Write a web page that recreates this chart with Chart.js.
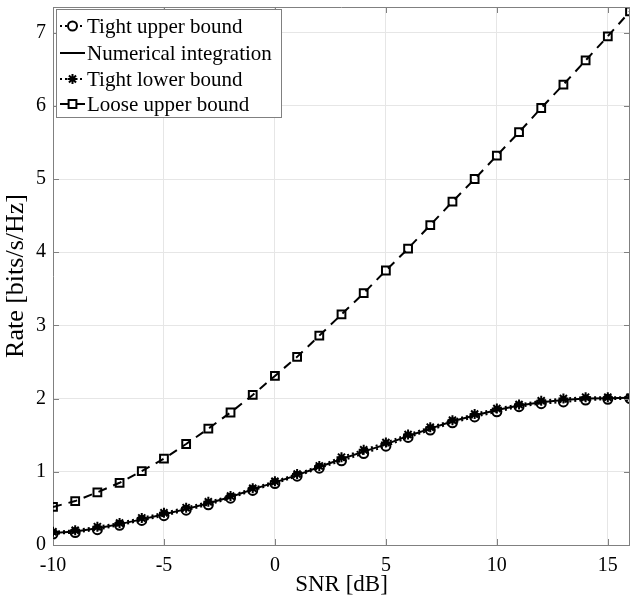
<!DOCTYPE html>
<html>
<head>
<meta charset="utf-8">
<script src="https://cdn.jsdelivr.net/npm/chart.js@4"></script>
<style>
  html, body { margin: 0; padding: 0; background: #fff; }
  #wrap { width: 630px; height: 603px; position: relative; }
</style>
</head>
<body>
<div id="wrap"><canvas id="chart"></canvas></div>
<script>
const snr = [-10, -9, -8, -7, -6, -5, -4, -3, -2, -1, 0, 1, 2, 3, 4, 5, 6, 7, 8, 9, 10, 11, 12, 13, 14, 15, 16];
const tightUpper = [0.15, 0.17, 0.21, 0.27, 0.335, 0.40, 0.475, 0.55, 0.64, 0.745, 0.84, 0.94, 1.05, 1.15, 1.25, 1.35, 1.47, 1.57, 1.67, 1.75, 1.82, 1.89, 1.93, 1.955, 1.98, 1.99, 2.0];
const numerical = [0.165, 0.185, 0.23, 0.285, 0.35, 0.42, 0.49, 0.57, 0.655, 0.76, 0.855, 0.955, 1.065, 1.175, 1.275, 1.375, 1.49, 1.59, 1.69, 1.77, 1.845, 1.905, 1.95, 1.98, 2.0, 2.005, 2.01];
const tightLower = [0.18, 0.20, 0.25, 0.30, 0.37, 0.44, 0.51, 0.59, 0.67, 0.775, 0.87, 0.97, 1.08, 1.20, 1.30, 1.40, 1.51, 1.61, 1.705, 1.79, 1.865, 1.92, 1.97, 2.0, 2.02, 2.02, 2.02];
const looseUpper = [0.52, 0.60, 0.72, 0.85, 1.01, 1.18, 1.38, 1.59, 1.81, 2.05, 2.31, 2.57, 2.86, 3.15, 3.44, 3.75, 4.05, 4.37, 4.69, 5.00, 5.32, 5.64, 5.97, 6.29, 6.62, 6.95, 7.29];
const xTicks = [-10, -5, 0, 5, 10, 15];
const yTicks = [0, 1, 2, 3, 4, 5, 6, 7];

const FONT = "'Liberation Serif', 'Times New Roman', serif";
const AXIS = '#808080';
const pts = vals => vals.map((v, i) => ({ x: snr[i], y: v }));

// box on top/right plus small inward ticks, matlab style
const matlabBox = {
  id: 'matlabBox',
  afterDatasetsDraw(chart) {
    const { ctx, chartArea: a, scales } = chart;
    ctx.save();
    ctx.strokeStyle = AXIS;
    ctx.lineWidth = 1;
    ctx.beginPath();
    ctx.moveTo(a.left, a.top + 0.5);
    ctx.lineTo(a.right, a.top + 0.5);
    ctx.moveTo(a.right - 0.5, a.top);
    ctx.lineTo(a.right - 0.5, a.bottom);
    xTicks.forEach(v => {
      const px = Math.round(scales.x.getPixelForValue(v)) + 0.5;
      ctx.moveTo(px, a.bottom);
      ctx.lineTo(px, a.bottom - 6);
      ctx.moveTo(px, a.top);
      ctx.lineTo(px, a.top + 6);
    });
    yTicks.forEach(v => {
      const py = Math.round(scales.y.getPixelForValue(v)) + 0.5;
      ctx.moveTo(a.left, py);
      ctx.lineTo(a.left + 6, py);
      ctx.moveTo(a.right, py);
      ctx.lineTo(a.right - 6, py);
    });
    ctx.stroke();
    ctx.restore();
  }
};

// legend drawn like the matlab one: line sample + marker
const matlabLegend = {
  id: 'matlabLegend',
  afterDraw(chart) {
    const ctx = chart.ctx;
    const x0 = 56, y0 = 9, w = 225, h = 108;
    ctx.save();
    ctx.fillStyle = '#fff';
    ctx.fillRect(x0, y0, w, h);
    ctx.strokeStyle = AXIS;
    ctx.lineWidth = 1;
    ctx.strokeRect(x0 + 0.5, y0 + 0.5, w, h);
    const rows = [26, 53, 79, 104];
    chart.data.datasets.forEach((ds, i) => {
      const y = rows[i];
      ctx.strokeStyle = '#000';
      ctx.lineWidth = 2;
      ctx.setLineDash(ds.borderDash || []);
      ctx.beginPath();
      ctx.moveTo(60, y);
      ctx.lineTo(85, y);
      ctx.stroke();
      ctx.setLineDash([]);
      if (ds.pointRadius > 0) {
        ctx.fillStyle = '#fff';
        ctx.strokeStyle = '#000';
        ctx.lineWidth = ds.pointBorderWidth;
        Chart.helpers.drawPoint(ctx, {
          pointStyle: ds.pointStyle,
          radius: ds.pointRadius,
          borderWidth: ds.pointBorderWidth,
          rotation: 0
        }, 72.5, y);
      }
      ctx.fillStyle = '#000';
      ctx.font = '21px ' + FONT;
      ctx.textBaseline = 'middle';
      ctx.textAlign = 'left';
      ctx.fillText(ds.label, 87, y + 1);
    });
    ctx.restore();
  }
};

new Chart(document.getElementById('chart'), {
  type: 'line',
  data: {
    datasets: [
      {
        label: 'Tight upper bound',
        data: pts(tightUpper),
        borderColor: '#000',
        borderWidth: 2,
        borderDash: [2, 3],
        pointStyle: 'circle',
        pointRadius: 4.5,
        pointBorderWidth: 2,
        pointBorderColor: '#000',
        pointBackgroundColor: 'rgba(255,255,255,0)'
      },
      {
        label: 'Numerical integration',
        data: pts(numerical),
        borderColor: '#000',
        borderWidth: 2,
        pointRadius: 0
      },
      {
        label: 'Tight lower bound',
        data: pts(tightLower),
        borderColor: '#000',
        borderWidth: 2,
        borderDash: [2, 3],
        pointStyle: 'star',
        pointRadius: 5,
        pointBorderWidth: 2,
        pointBorderColor: '#000',
        pointBackgroundColor: '#000'
      },
      {
        label: 'Loose upper bound',
        data: pts(looseUpper),
        borderColor: '#000',
        borderWidth: 2,
        borderDash: [9, 7],
        pointStyle: 'rect',
        pointRadius: 5.5,
        pointBorderWidth: 2,
        pointBorderColor: '#000',
        pointBackgroundColor: 'rgba(255,255,255,0)'
      }
    ]
  },
  options: {
    responsive: true,
    maintainAspectRatio: false,
    animation: false,
    layout: { autoPadding: false, padding: { top: 7, right: 0, left: 0, bottom: 0 } },
    plugins: { legend: { display: false }, tooltip: { enabled: false } },
    scales: {
      x: {
        type: 'linear',
        min: -10,
        max: 16,
        afterBuildTicks: axis => { axis.ticks = xTicks.map(v => ({ value: v })); },
        afterFit: axis => {
          axis.height = 58;
          axis.paddingLeft = 0;
          axis.paddingRight = 0;
        },
        grid: { color: '#e6e6e6', lineWidth: 1, drawTicks: false },
        border: { color: AXIS, width: 1 },
        ticks: { color: '#000', font: { family: FONT, size: 20 }, padding: 9, maxRotation: 0 },
        title: { display: true, text: 'SNR [dB]', color: '#000', font: { family: FONT, size: 23 }, padding: { top: 4, bottom: 4 } }
      },
      y: {
        min: 0,
        max: 7.35,
        afterBuildTicks: axis => { axis.ticks = yTicks.map(v => ({ value: v })); },
        afterFit: axis => {
          axis.width = 53;
          axis.paddingTop = 0;
          axis.paddingBottom = 0;
        },
        grid: { color: '#e6e6e6', lineWidth: 1, drawTicks: false },
        border: { color: AXIS, width: 1 },
        ticks: { color: '#000', font: { family: FONT, size: 20 }, padding: 7 },
        title: { display: true, text: 'Rate [bits/s/Hz]', color: '#000', font: { family: FONT, size: 26 }, padding: { top: 1, bottom: 1 } }
      }
    }
  },
  plugins: [matlabBox, matlabLegend]
});
</script>
</body>
</html>
